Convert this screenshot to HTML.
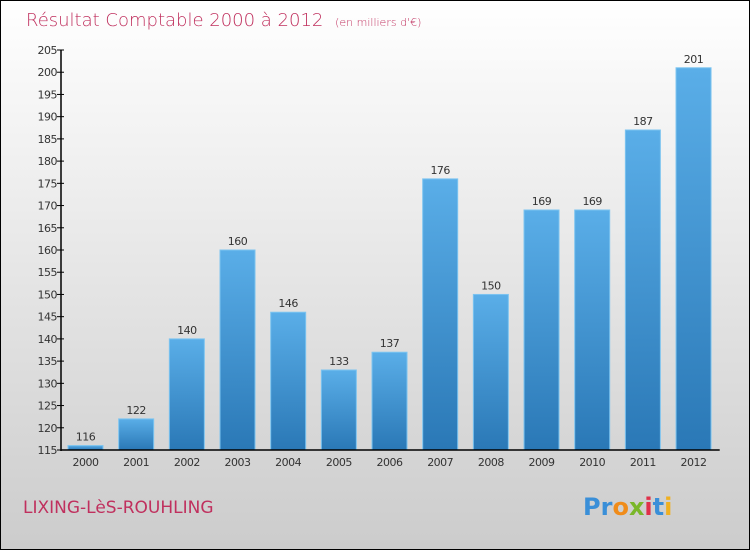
<!DOCTYPE html>
<html><head><meta charset="utf-8"><style>
body{margin:0}
#c{width:748px;height:548px;border:1px solid #000;background:linear-gradient(#ffffff,#cccccc);position:relative;font-family:"DejaVu Sans","Liberation Sans",sans-serif;overflow:hidden}
</style></head><body>
<div id="c">
<svg width="748" height="548" id="s">
<defs><linearGradient id="g" x1="0" y1="0" x2="0" y2="1"><stop offset="0" stop-color="#5aaee8"/><stop offset="1" stop-color="#2a78b6"/></linearGradient></defs>
<text x="25" y="25" font-size="18" fill="#c0305e" font-weight="200">Résultat Comptable 2000 à 2012 <tspan font-size="11" dx="6">(en milliers d'€)</tspan></text>
<text x="22" y="512" font-size="17" fill="#c0305e">LIXING-LèS-ROUHLING</text>
<text x="582" y="514" font-size="24" font-weight="bold"><tspan fill="#3a8fd8">Pr</tspan><tspan fill="#f08c1a">o</tspan><tspan fill="#7ab72a">x</tspan><tspan fill="#e0304a">i</tspan><tspan fill="#3a8fd8">t</tspan><tspan fill="#f0b020">i</tspan></text>
<g id="plot"></g>
</svg></div>
<script>
const categories=["2000","2001","2002","2003","2004","2005","2006","2007","2008","2009","2010","2011","2012"];
const values=[116,122,140,160,146,133,137,176,150,169,169,187,201];
const yTicks=[115,120,125,130,135,140,145,150,155,160,165,170,175,180,185,190,195,200,205];
const NS="http://www.w3.org/2000/svg";
const g=document.getElementById('plot');
const x0=60,y0=449,yMin=115,yMax=205,plotTop=49,band=50.67;
const y=v=>y0-(v-yMin)/(yMax-yMin)*(y0-plotTop);
const xc=i=>x0+24.5+i*band;
function mk(t,a){const e=document.createElementNS(NS,t);for(const k in a)e.setAttribute(k,a[k]);g.appendChild(e);return e;}
yTicks.forEach(t=>{
 const l=mk('line',{x1:x0-4,x2:x0+3,y1:y(t),y2:y(t),stroke:'#000'});
 
 
 const tx=mk('text',{x:x0-4,y:y(t)+4,'text-anchor':'end','font-size':11,fill:'#333','letter-spacing':'-0.5'});
 tx.textContent=t;
 
 
});
values.forEach((v,i)=>{
 const r=mk('rect',{x:xc(i)-17.5,y:y(v),width:35,height:y0-y(v),fill:'url(#g)',stroke:'#7cc4f0','stroke-width':1});
 
 
 const t=mk('text',{x:xc(i),y:y(v)-5,'text-anchor':'middle','font-size':11,fill:'#333','letter-spacing':'-0.5'});
 t.textContent=v;
 
 
 const c=mk('text',{x:xc(i),y:y0+16,'text-anchor':'middle','font-size':11,fill:'#333','letter-spacing':'-0.5'});
 c.textContent=categories[i];
 
 
});
const ya=mk('line',{x1:x0,x2:x0,y1:plotTop,y2:y0+1,stroke:'#000','stroke-width':1.5});


const xa=mk('line',{x1:x0,x2:x0+13*band,y1:y0,y2:y0,stroke:'#000','stroke-width':1.5});


</script>
</body></html>
